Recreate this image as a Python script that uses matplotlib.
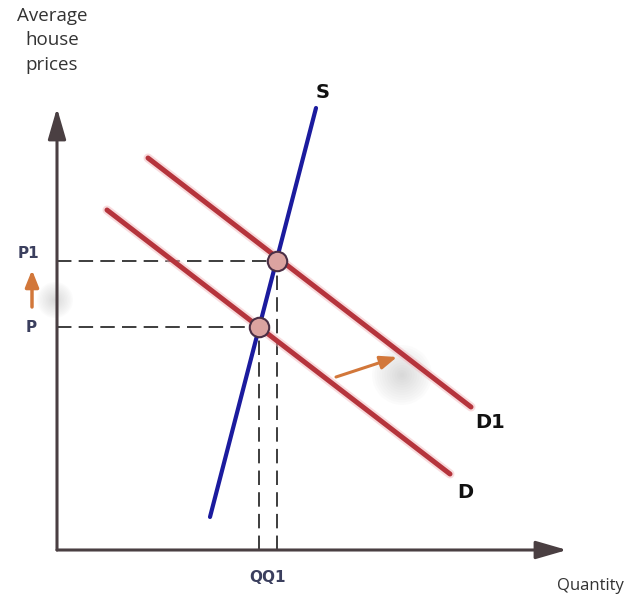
import matplotlib
matplotlib.use("Agg")
import matplotlib.pyplot as plt
import numpy as np

# Curve endpoints (quantity, price) in diagram units
supply_q = [153, 259]
supply_p = [33, 442]
demand_q = [50, 393]
demand_p = [340, 76]
demand1_q = [91, 414]
demand1_p = [392, 143]

# Equilibria
eq_q = [202, 220]
eq_p = [223, 289]
price_labels = ["P", "P1"]
qty_label = "QQ1"

fig = plt.figure(figsize=(6.3, 5.97), dpi=100)
ax = fig.add_axes([0, 0, 1, 1])
ax.set_xlim(-57, 573)
ax.set_ylim(-47, 550)
ax.axis("off")

axis_col = "#4a3f42"
red = "#b5343c"
blue = "#1b1b9e"
label_col = "#3b3f5e"
orange = "#d2773a"

# soft gray shadows
for cx, cy, r0 in [(345, 175, 30), (-2, 250, 18)]:
    for k in range(12):
        r = r0 * (1 - k / 12)
        ax.add_patch(plt.Circle((cx, cy), r, color="#9a9a9a", alpha=0.03, lw=0, zorder=0))

# axes with arrows
ax.annotate("", xy=(0, 442), xytext=(0, 0),
            arrowprops=dict(arrowstyle="-|>,head_length=1.9,head_width=0.55",
                            color=axis_col, lw=2.2, shrinkA=0, shrinkB=0), zorder=3)
ax.annotate("", xy=(510, 0), xytext=(0, 0),
            arrowprops=dict(arrowstyle="-|>,head_length=1.9,head_width=0.55",
                            color=axis_col, lw=2.2, shrinkA=0, shrinkB=0), zorder=3)

# dashed guide lines
for q, p in zip(eq_q, eq_p):
    ax.plot([0, q], [p, p], color="#2e2e2e", lw=1.3, dashes=(8, 4), zorder=2)
    ax.plot([q, q], [0, p], color="#2e2e2e", lw=1.3, dashes=(8, 4), zorder=2)

# demand curves with faint glow
for qs, ps in [(demand_q, demand_p), (demand1_q, demand1_p)]:
    ax.plot(qs, ps, color="#f2b8bd", lw=6.5, alpha=0.5, solid_capstyle="round", zorder=3)
    ax.plot(qs, ps, color=red, lw=3.6, solid_capstyle="round", zorder=4)

# supply curve
ax.plot(supply_q, supply_p, color=blue, lw=3.0, solid_capstyle="round", zorder=5)

# equilibrium dots
ax.plot(eq_q, eq_p, "o", ms=14, mfc="#dba3a0", mec="#4a2f45", mew=1.5, zorder=6)

# shift arrows
ax.annotate("", xy=(340, 193), xytext=(279, 173),
            arrowprops=dict(arrowstyle="-|>,head_length=1.0,head_width=0.4",
                            color=orange, lw=2.2, shrinkA=0, shrinkB=0), zorder=6)
ax.annotate("", xy=(-25, 280), xytext=(-25, 243),
            arrowprops=dict(arrowstyle="-|>,head_length=1.0,head_width=0.4",
                            color=orange, lw=2.5, shrinkA=0, shrinkB=0), zorder=6)

# labels
ax.text(-29, 296, price_labels[1], ha="center", va="center", fontsize=11,
        fontweight="bold", color=label_col)
ax.text(-26, 222, price_labels[0], ha="center", va="center", fontsize=11,
        fontweight="bold", color=label_col)
ax.text(211, -28, qty_label, ha="center", va="center", fontsize=11,
        fontweight="bold", color=label_col)
ax.text(266, 457, "S", ha="center", va="center", fontsize=14, fontweight="bold", color="#111111")
ax.text(433, 128, "D1", ha="center", va="center", fontsize=14, fontweight="bold", color="#111111")
ax.text(408, 57, "D", ha="center", va="center", fontsize=14, fontweight="bold", color="#111111")
ax.text(-5, 543, "Average\nhouse\nprices", ha="center", va="top", fontsize=13.5,
        color="#333333", linespacing=1.45, family="Open Sans")
ax.text(533, -36, "Quantity", ha="center", va="center", fontsize=12,
        color="#333333", family="Open Sans")

fig.savefig("out.png", dpi=100)
